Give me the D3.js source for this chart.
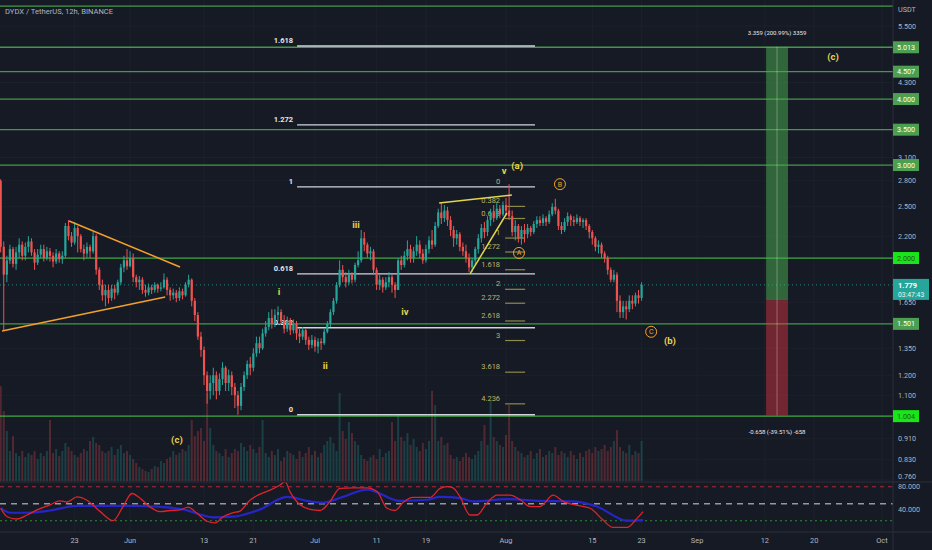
<!DOCTYPE html>
<html>
<head>
<meta charset="utf-8">
<script src="https://cdn.jsdelivr.net/npm/d3@7"></script>
<style>
	html, body { margin: 0; padding: 0; background: #161a25; }
	#chart { width: 932px; height: 550px; }
	text { font-family: Roboto, "Liberation Sans", sans-serif; }
</style>
</head>
<body>
<div id="chart"></div>
<script>

//12h candles, first one opens 2022-05-11 00:00 (chart timezone), last one 2022-08-23 00:00
var candleStart = Date.UTC(2022, 4, 11);
var candleStep = 12 * 3600 * 1000;
var firstOpen = 2.80;

var closes = [
	2.10,1.86,1.98,2.08,1.95,2.05,2.12,2.02,2.10,2.15,
	2.05,1.96,2.03,2.08,2.00,2.06,2.02,1.97,2.04,1.99,
	2.02,2.30,2.20,2.14,2.28,2.20,2.08,2.04,2.10,2.06,
	2.20,1.90,1.78,1.70,1.74,1.68,1.75,1.72,1.80,1.92,
	1.98,1.93,2.00,1.84,1.80,1.82,1.74,1.72,1.76,1.74,
	1.78,1.75,1.76,1.82,1.74,1.70,1.72,1.68,1.73,1.70,
	1.78,1.82,1.66,1.56,1.42,1.34,1.20,1.12,1.16,1.20,
	1.12,1.18,1.24,1.16,1.20,1.14,1.10,1.05,1.14,1.20,
	1.26,1.24,1.32,1.38,1.35,1.44,1.48,1.54,1.50,1.56,
	1.58,1.52,1.47,1.52,1.46,1.50,1.44,1.42,1.46,1.40,
	1.37,1.40,1.36,1.39,1.38,1.45,1.50,1.58,1.66,1.78,
	1.90,1.84,1.80,1.86,1.82,1.94,1.98,2.18,2.12,2.04,
	2.06,1.90,1.78,1.82,1.76,1.80,1.84,1.78,1.74,1.98,
	1.94,2.02,2.08,2.00,2.06,2.12,2.04,1.98,2.08,2.16,
	2.12,2.30,2.44,2.38,2.46,2.36,2.26,2.18,2.22,2.10,
	2.06,2.00,1.92,1.98,2.08,2.18,2.28,2.24,2.36,2.44,
	2.38,2.48,2.42,2.52,2.46,2.40,2.24,2.30,2.18,2.26,
	2.22,2.28,2.24,2.32,2.36,2.33,2.38,2.34,2.42,2.50,
	2.46,2.30,2.26,2.34,2.40,2.36,2.34,2.38,2.34,2.36,
	2.30,2.24,2.18,2.10,2.12,2.04,2.00,1.90,1.82,1.86,
	1.66,1.58,1.62,1.60,1.66,1.64,1.70,1.68,1.779
];

var highs = [
	2.82,2.15,2.02,2.12,2.10,2.10,2.18,2.15,2.14,2.20,
	2.18,2.08,2.08,2.12,2.12,2.10,2.09,2.05,2.08,2.06,
	2.06,2.33,2.36,2.24,2.34,2.30,2.22,2.12,2.14,2.12,
	2.24,2.22,1.92,1.82,1.78,1.78,1.78,1.78,1.82,1.95,
	2.02,2.08,2.06,2.04,1.86,1.85,1.84,1.78,1.79,1.78,
	1.80,1.79,1.80,1.87,1.84,1.76,1.75,1.74,1.76,1.75,
	1.80,1.86,1.83,1.68,1.58,1.45,1.36,1.22,1.20,1.24,
	1.22,1.21,1.27,1.25,1.23,1.22,1.16,1.12,1.16,1.22,
	1.28,1.30,1.35,1.42,1.42,1.47,1.52,1.58,1.60,1.60,
	1.62,1.60,1.56,1.55,1.54,1.53,1.52,1.47,1.48,1.47,
	1.42,1.43,1.42,1.41,1.41,1.47,1.52,1.60,1.68,1.80,
	1.98,1.94,1.88,1.90,1.88,1.96,2.06,2.26,2.24,2.14,
	2.10,2.08,1.92,1.86,1.84,1.84,1.88,1.86,1.80,2.00,
	2.02,2.06,2.16,2.12,2.10,2.20,2.16,2.08,2.12,2.20,
	2.26,2.34,2.48,2.55,2.52,2.50,2.40,2.30,2.26,2.24,
	2.14,2.12,2.04,2.00,2.10,2.22,2.32,2.34,2.40,2.48,
	2.52,2.54,2.52,2.56,2.60,2.76,2.46,2.36,2.32,2.30,
	2.32,2.32,2.30,2.35,2.40,2.40,2.42,2.40,2.46,2.54,
	2.59,2.48,2.34,2.38,2.44,2.42,2.40,2.42,2.40,2.38,
	2.38,2.32,2.26,2.20,2.16,2.14,2.06,2.02,1.92,1.90,
	1.88,1.70,1.66,1.66,1.70,1.70,1.72,1.74,1.80
];

var lows = [
	2.05,1.46,1.80,1.95,1.92,1.90,2.00,1.98,1.98,2.05,
	2.02,1.90,1.94,2.00,1.97,1.98,1.97,1.92,1.95,1.96,
	1.95,2.00,2.16,2.10,2.12,2.05,2.05,1.98,2.00,2.00,
	2.04,1.86,1.74,1.66,1.62,1.64,1.66,1.67,1.70,1.78,
	1.88,1.90,1.92,1.80,1.76,1.74,1.71,1.69,1.70,1.71,
	1.72,1.72,1.73,1.75,1.70,1.66,1.67,1.65,1.66,1.67,
	1.69,1.76,1.62,1.52,1.40,1.30,1.15,1.06,1.08,1.10,
	1.08,1.10,1.15,1.12,1.12,1.10,1.04,1.01,1.03,1.12,
	1.18,1.20,1.22,1.30,1.32,1.34,1.42,1.46,1.47,1.48,
	1.52,1.50,1.44,1.45,1.43,1.44,1.40,1.38,1.40,1.37,
	1.34,1.35,1.33,1.32,1.34,1.37,1.44,1.48,1.56,1.64,
	1.76,1.80,1.76,1.78,1.79,1.80,1.92,1.96,2.06,2.00,
	1.98,1.86,1.74,1.74,1.72,1.74,1.76,1.72,1.68,1.74,
	1.90,1.92,1.98,1.96,1.96,2.02,2.00,1.95,1.96,2.04,
	2.08,2.10,2.28,2.32,2.34,2.30,2.20,2.10,2.12,2.06,
	2.02,1.96,1.88,1.88,1.94,2.04,2.14,2.18,2.20,2.30,
	2.34,2.36,2.38,2.40,2.42,2.36,2.20,2.16,2.14,2.12,
	2.14,2.18,2.20,2.22,2.28,2.30,2.30,2.30,2.32,2.40,
	2.42,2.26,2.22,2.24,2.30,2.30,2.30,2.32,2.30,2.28,
	2.26,2.18,2.12,2.06,2.04,2.00,1.96,1.86,1.80,1.80,
	1.58,1.54,1.54,1.53,1.58,1.60,1.62,1.64,1.66
];

//volume, in millions
var volumes = [
	95,70,50,30,45,28,25,30,24,28,
	26,30,22,28,25,30,61,28,32,25,
	30,38,34,30,26,24,28,32,30,40,
	44,38,36,30,28,30,34,26,32,36,
	28,30,26,22,18,14,12,10,9,12,
	15,14,20,18,22,24,30,26,28,32,
	30,36,61,45,50,53,40,88,53,36,
	30,28,25,32,24,28,32,30,38,34,
	30,36,32,28,34,61,28,24,30,26,
	32,20,24,30,28,26,22,30,24,28,
	34,26,30,24,28,36,40,44,38,30,
	88,50,42,59,48,40,36,26,22,20,
	24,26,22,32,24,28,30,59,40,66,
	44,40,48,36,42,34,30,38,32,40,
	90,76,40,44,36,38,26,22,24,20,
	24,28,24,22,26,30,40,56,36,80,
	44,40,36,34,46,76,40,34,30,28,
	24,26,30,22,28,32,24,26,30,28,
	34,26,30,28,24,30,26,22,28,24,
	30,32,28,34,30,32,36,30,34,40,
	51,34,30,28,36,26,30,28,40
];

//oscillator (red) and its moving average (blue), read at candle positions
var rsiIdx = [0,2.1,5.3,8.6,11.8,16,19.3,21.5,24.8,28,32.3,36.5,39.7,42.6,45.2,48.5,51.7,55,58.2,60.8,63.7,67,69.6,72.2,75.4,77.7,80.9,84.2,87.4,90.7,92.3,93.9,97.2,100.4,103.7,106.9,110.1,114.4,118.9,122.2,125.4,128,130.6,133.8,139.3,142.6,144.9,146.8,149.1,152.3,154.6,157.8,161.1,165.3,168.6,171.8,175,179.3,182.5,188,191.3,195.5,198.7,203.3,206.5,208.5];
var rsiVal = [42,27,23,30,39,48,55,53,62,56,36,20,45,68,60,44,36,38,39,44,33,19,16,27,34,37,56,67,74,83,89,71,48,40,38,54,77,78,78,71,42,38,52,61,61,77,80,78,62,30,30,51,65,65,57,45,45,65,54,46,42,21,8,8,24,36];
var maIdx = [0,3.1,8.6,16,24.8,32.3,43,50.8,59.2,68.9,75.4,84.2,92.9,100.4,104.6,111.1,118.9,129.6,138.4,142.6,149.1,153.3,164.3,175,185.8,193.5,203.3,208.5];
var maVal = [42,34,34,38,46,46,46,45,40,26,27,40,62,54,52,62,75,55,57,62,60,54,58,55,54,45,20,21];
var oscLevels = [80, 50, 20];
var oscTicks = [80, 40];

//horizontal levels drawn on the chart, with price tags on the axis
var keyLevels = [6.0, 5.013, 4.507, 4.0, 3.5, 3.0, 2.0, 1.501, 1.004];
var brightLevels = [2.0, 1.004];
var priceTicks = [5.5, 4.3, 3.1, 2.8, 2.5, 2.2, 1.65, 1.35, 1.2, 1.1, 0.91, 0.83, 0.76];
var dateTicks = ["2022-05-23","2022-06-01","2022-06-13","2022-06-21","2022-07-01","2022-07-11","2022-07-19","2022-08-01","2022-08-15","2022-08-23","2022-09-01","2022-09-12","2022-09-20","2022-10-01"];

//fib retracement (price at level 0 and 1) and trend based extension
var fibLevels = [0, 0.382, 0.618, 1, 1.272, 1.618];
var fibPrices = [1.01, 2.728];
var fibSpan = [96.2, 173.4];
var extLevels = [0, 0.382, 0.618, 1, 1.272, 1.618, 2, 2.272, 2.618, 3, 3.618, 4.236];
var extPrices = [2.728, 2.182];
var extSpan = [163.7, 170.2];

//long position tool
var posSpan = [248.4, 255.5];
var posEntry = 1.665;
var posTarget = 5.024;
var posStop = 1.007;

var orangeLines = [
	{i1: 22.2, p1: 2.35, i2: 58.2, p2: 1.924},
	{i1: 0.45, p1: 1.455, i2: 53.4, p2: 1.688}
];
var wedgeLines = [
	{i1: 142.3, p1: 2.543, i2: 165.9, p2: 2.633},
	{i1: 152.3, p1: 1.866, i2: 164.3, p2: 2.434}
];
var waveLabels = [
	{text: "i", i: 90.3, p: 1.726},
	{text: "ii", i: 105.3, p: 1.25},
	{text: "iii", i: 115.3, p: 2.31},
	{text: "iv", i: 131.2, p: 1.58},
	{text: "v", i: 163.4, p: 2.93},
	{text: "(a)", i: 167.6, p: 2.99},
	{text: "(b)", i: 217.2, p: 1.394},
	{text: "(c)", i: 57.2, p: 0.905},
	{text: "(c)", i: 270.1, p: 4.81}
];
var circleLabels = [
	{text: "A", i: 168.2, p: 2.045},
	{text: "B", i: 181.5, p: 2.76},
	{text: "C", i: 211.1, p: 1.45}
];


function Chart(frame_id)
{
	var self = this;

	self.width = 932;
	self.height = 550;
	self.plotRight = 893;
	self.priceBottom = 482;
	self.oscBottom = 532;

	self.colors = {
		bg: "#161a25",
		grid: "#1d212c",
		text: "#b2b5be",
		border: "#2a2e39",
		up: "#26a69a",
		down: "#ef5350",
		level: "#4caf50",
		yellow: "#e4d64c",
		orange: "#f5a02a",
		ext: "#bdb56a"
	};

	self.frame = d3.select("#" + frame_id);
	self.svg = self.frame.append("svg")
		.attr("width", self.width)
		.attr("height", self.height);

	self.x = d3.scaleUtc()
		.domain([new Date(Date.UTC(2022, 4, 10, 21, 24)), new Date(Date.UTC(2022, 9, 2, 19, 0))])
		.range([0, self.plotRight]);

	self.y = d3.scaleLog()
		.domain([0.76, 5.5])
		.range([480, 26]);

	self.yVol = d3.scaleLinear()
		.domain([0, 100])
		.range([481, 381]);

	self.yOsc = d3.scaleLinear()
		.domain([0, 100])
		.range([self.oscBottom, 475.4]);

	//build the candle objects, each one opens at the previous close
	var n = Math.min(closes.length, highs.length, lows.length, volumes.length);
	self.candles = [];
	for (var i = 0; i < n; i++)
	{
		self.candles.push({
			i: i,
			open: i == 0 ? firstOpen : closes[i - 1],
			high: highs[i],
			low: lows[i],
			close: closes[i],
			volume: volumes[i]
		});
	}

	var defs = self.svg.append("defs");
	defs.append("clipPath").attr("id", "clip_price")
		.append("rect").attr("x", 0).attr("y", 0).attr("width", self.plotRight).attr("height", self.priceBottom);
	defs.append("clipPath").attr("id", "clip_osc")
		.append("rect").attr("x", 0).attr("y", self.priceBottom).attr("width", self.plotRight).attr("height", self.oscBottom - self.priceBottom);

	self.drawBackground();

	self.pricePane = self.svg.append("g").attr("clip-path", "url(#clip_price)");
	self.oscPane = self.svg.append("g").attr("clip-path", "url(#clip_osc)");

	self.drawVolume();
	self.drawLevels();
	self.drawFib();
	self.drawCandles();
	self.drawPosition();
	self.drawTrendLines();
	self.drawWaveLabels();
	self.drawOscillator();
	self.drawAxes();
}

//x position of a (possibly fractional) candle index
Chart.prototype.xi = function(i)
{
	var self = this;
	return self.x(new Date(candleStart + i * candleStep));
};

//price at a fib level, levels are spaced evenly on the log scale
Chart.prototype.fibPrice = function(prices, level)
{
	var a = Math.log(prices[0]);
	var b = Math.log(prices[1]);
	return Math.exp(a + level * (b - a));
};

Chart.prototype.drawBackground = function()
{
	var self = this;

	self.svg.append("rect")
		.attr("width", self.width)
		.attr("height", self.height)
		.attr("fill", self.colors.bg);

	var grid = self.svg.append("g").attr("class", "layer_grid");

	grid.selectAll(".vgrid")
		.data(dateTicks)
		.enter()
			.append("line")
				.attr("x1", function(d){return self.x(new Date(d));})
				.attr("x2", function(d){return self.x(new Date(d));})
				.attr("y1", 0)
				.attr("y2", self.oscBottom)
				.attr("stroke", self.colors.grid)
				.attr("stroke-width", 1);

	grid.selectAll(".hgrid")
		.data(priceTicks)
		.enter()
			.append("line")
				.attr("x1", 0)
				.attr("x2", self.plotRight)
				.attr("y1", function(d){return self.y(d);})
				.attr("y2", function(d){return self.y(d);})
				.attr("stroke", self.colors.grid)
				.attr("stroke-width", 1);
};

Chart.prototype.drawVolume = function()
{
	var self = this;

	self.pricePane.append("g")
		.attr("class", "layer_volume")
		.selectAll("rect")
		.data(self.candles)
		.enter()
			.append("rect")
				.attr("x", function(d){return self.xi(d.i) - 1;})
				.attr("width", 2)
				.attr("y", function(d){return self.yVol(d.volume);})
				.attr("height", function(d){return self.yVol(0) - self.yVol(d.volume);})
				.attr("fill", function(d){return d.close >= d.open ? self.colors.up : self.colors.down;})
				.attr("opacity", 0.27);
};

Chart.prototype.drawLevels = function()
{
	var self = this;

	//current price, dotted across the whole pane
	var last = self.candles[self.candles.length - 1].close;
	self.pricePane.append("line")
		.attr("x1", 0)
		.attr("x2", self.plotRight)
		.attr("y1", self.y(last))
		.attr("y2", self.y(last))
		.attr("stroke", self.colors.up)
		.attr("stroke-width", 1)
		.attr("stroke-dasharray", "1,3")
		.attr("opacity", 0.8);

	self.pricePane.append("g")
		.attr("class", "layer_levels")
		.selectAll("line")
		.data(keyLevels)
		.enter()
			.append("line")
				.attr("x1", 0)
				.attr("x2", self.plotRight)
				.attr("y1", function(d){return self.y(d);})
				.attr("y2", function(d){return self.y(d);})
				.attr("stroke", function(d){return brightLevels.indexOf(d) >= 0 ? "#46c34a" : self.colors.level;})
				.attr("stroke-width", 1.3)
				.attr("opacity", 0.85);
};

Chart.prototype.drawFib = function()
{
	var self = this;
	var g = self.pricePane.append("g").attr("class", "layer_fib");

	//retracement, white
	var x1 = self.xi(fibSpan[0]);
	var x2 = self.xi(fibSpan[1]);

	g.selectAll(".fib_line")
		.data(fibLevels)
		.enter()
			.append("line")
				.attr("x1", x1)
				.attr("x2", x2)
				.attr("y1", function(d){return self.y(self.fibPrice(fibPrices, d));})
				.attr("y2", function(d){return self.y(self.fibPrice(fibPrices, d));})
				.attr("stroke", "#d1d4dc")
				.attr("stroke-width", 1.4);

	g.selectAll(".fib_label")
		.data(fibLevels)
		.enter()
			.append("text")
				.attr("x", x1 - 4)
				.attr("y", function(d){return self.y(self.fibPrice(fibPrices, d)) - 3;})
				.attr("text-anchor", "end")
				.attr("font-size", "7.5px")
				.attr("font-weight", "bold")
				.attr("fill", "#e6e7ea")
				.text(function(d){return d;});

	//trend based extension, olive
	var e1 = self.xi(extSpan[0]);
	var e2 = self.xi(extSpan[1]);

	g.selectAll(".ext_line")
		.data(extLevels.slice(1))
		.enter()
			.append("line")
				.attr("x1", e1)
				.attr("x2", e2)
				.attr("y1", function(d){return self.y(self.fibPrice(extPrices, d));})
				.attr("y2", function(d){return self.y(self.fibPrice(extPrices, d));})
				.attr("stroke", "#8e8a48")
				.attr("stroke-width", 1.2);

	g.selectAll(".ext_label")
		.data(extLevels)
		.enter()
			.append("text")
				.attr("x", e1 - 5)
				.attr("y", function(d){return self.y(self.fibPrice(extPrices, d)) - 3;})
				.attr("text-anchor", "end")
				.attr("font-size", "7.5px")
				.attr("fill", self.colors.ext)
				.text(function(d){return d;});
};

Chart.prototype.drawCandles = function()
{
	var self = this;

	var candle = self.pricePane.append("g")
		.attr("class", "layer_candles")
		.selectAll(".candle")
		.data(self.candles)
		.enter()
			.append("g")
				.attr("class", "candle");

	candle.append("line")
		.attr("x1", function(d){return self.xi(d.i);})
		.attr("x2", function(d){return self.xi(d.i);})
		.attr("y1", function(d){return self.y(Math.max(d.high, d.open, d.close));})
		.attr("y2", function(d){return self.y(Math.min(d.low, d.open, d.close));})
		.attr("stroke", function(d){return d.close >= d.open ? self.colors.up : self.colors.down;})
		.attr("stroke-width", 1);

	candle.append("rect")
		.attr("x", function(d){return self.xi(d.i) - 1.1;})
		.attr("width", 2.2)
		.attr("y", function(d){return self.y(Math.max(d.open, d.close));})
		.attr("height", function(d){return Math.max(1, self.y(Math.min(d.open, d.close)) - self.y(Math.max(d.open, d.close)));})
		.attr("fill", function(d){return d.close >= d.open ? self.colors.up : self.colors.down;});
};

Chart.prototype.drawPosition = function()
{
	var self = this;
	var g = self.pricePane.append("g").attr("class", "layer_position");

	var x1 = self.xi(posSpan[0]);
	var x2 = self.xi(posSpan[1]);
	var yT = self.y(posTarget);
	var yE = self.y(posEntry);
	var yS = self.y(posStop);

	g.append("rect")
		.attr("x", x1).attr("width", x2 - x1)
		.attr("y", yT).attr("height", yE - yT)
		.attr("fill", "#4caf50").attr("opacity", 0.5);

	g.append("rect")
		.attr("x", x1).attr("width", x2 - x1)
		.attr("y", yE).attr("height", yS - yE)
		.attr("fill", "#f23645").attr("opacity", 0.42);

	g.append("line")
		.attr("x1", (x1 + x2) / 2).attr("x2", (x1 + x2) / 2)
		.attr("y1", yT).attr("y2", yS)
		.attr("stroke", "#ffffff").attr("stroke-opacity", 0.3).attr("stroke-width", 1);

	var gain = posTarget - posEntry;
	var loss = posStop - posEntry;

	g.append("text")
		.attr("x", (x1 + x2) / 2)
		.attr("y", yT - 12)
		.attr("text-anchor", "middle")
		.attr("font-size", "6px")
		.attr("fill", "#e6e7ea")
		.text(gain.toFixed(3) + " (200.99%) " + Math.round(gain * 1000));

	g.append("text")
		.attr("x", (x1 + x2) / 2)
		.attr("y", yS + 19)
		.attr("text-anchor", "middle")
		.attr("font-size", "6px")
		.attr("fill", "#e6e7ea")
		.text(loss.toFixed(3) + " (-39.51%) " + Math.round(loss * 1000));
};

Chart.prototype.drawTrendLines = function()
{
	var self = this;
	var g = self.pricePane.append("g").attr("class", "layer_trend");

	function addLines(data, color)
	{
		g.selectAll(null)
			.data(data)
			.enter()
				.append("line")
					.attr("x1", function(d){return self.xi(d.i1);})
					.attr("y1", function(d){return self.y(d.p1);})
					.attr("x2", function(d){return self.xi(d.i2);})
					.attr("y2", function(d){return self.y(d.p2);})
					.attr("stroke", color)
					.attr("stroke-width", 1.5);
	}

	addLines(orangeLines, self.colors.orange);
	addLines(wedgeLines, self.colors.yellow);
};

Chart.prototype.drawWaveLabels = function()
{
	var self = this;
	var g = self.pricePane.append("g").attr("class", "layer_waves");

	g.selectAll(".wave")
		.data(waveLabels)
		.enter()
			.append("text")
				.attr("x", function(d){return self.xi(d.i);})
				.attr("y", function(d){return self.y(d.p);})
				.attr("dy", "0.35em")
				.attr("text-anchor", "middle")
				.attr("font-size", "9.5px")
				.attr("font-weight", "bold")
				.attr("fill", self.colors.yellow)
				.text(function(d){return d.text;});

	var circ = g.selectAll(".circ")
		.data(circleLabels)
		.enter()
			.append("g")
				.attr("transform", function(d){return "translate(" + self.xi(d.i) + "," + self.y(d.p) + ")";});

	circ.append("circle")
		.attr("r", 5.5)
		.attr("fill", "none")
		.attr("stroke", self.colors.orange)
		.attr("stroke-width", 1);

	circ.append("text")
		.attr("dy", "0.35em")
		.attr("text-anchor", "middle")
		.attr("font-size", "7px")
		.attr("fill", self.colors.orange)
		.text(function(d){return d.text;});
};

Chart.prototype.drawOscillator = function()
{
	var self = this;
	var g = self.oscPane;

	var dash = {80: "4,4", 50: "6,5", 20: "2,3"};
	var col = {80: "#b22833", 50: "#9598a1", 20: "#2f8a3a"};

	g.selectAll(".osc_level")
		.data(oscLevels)
		.enter()
			.append("line")
				.attr("x1", 0)
				.attr("x2", self.plotRight)
				.attr("y1", function(d){return self.yOsc(d);})
				.attr("y2", function(d){return self.yOsc(d);})
				.attr("stroke", function(d){return col[d];})
				.attr("stroke-width", function(d){return d == 50 ? 1.6 : 1.1;})
				.attr("stroke-dasharray", function(d){return dash[d];});

	var line = d3.line()
		.x(function(d){return self.xi(d[0]);})
		.y(function(d){return self.yOsc(d[1]);})
		.curve(d3.curveMonotoneX);

	g.append("path")
		.datum(d3.zip(maIdx, maVal))
		.attr("d", line)
		.attr("fill", "none")
		.attr("stroke", "#2626c8")
		.attr("stroke-width", 2.2);

	g.append("path")
		.datum(d3.zip(rsiIdx, rsiVal))
		.attr("d", line)
		.attr("fill", "none")
		.attr("stroke", "#e0232a")
		.attr("stroke-width", 1.3);
};

Chart.prototype.drawAxes = function()
{
	var self = this;
	var c = self.colors;
	var g = self.svg.append("g").attr("class", "layer_axes");

	//pane borders
	g.append("line").attr("x1", 0).attr("x2", self.width).attr("y1", self.priceBottom).attr("y2", self.priceBottom).attr("stroke", c.border);
	g.append("line").attr("x1", 0).attr("x2", self.width).attr("y1", self.oscBottom).attr("y2", self.oscBottom).attr("stroke", c.border);
	g.append("line").attr("x1", self.plotRight).attr("x2", self.plotRight).attr("y1", 0).attr("y2", self.height).attr("stroke", c.border);

	//header
	g.append("text")
		.attr("x", 5).attr("y", 14)
		.attr("font-size", "7.6px")
		.attr("fill", c.text)
		.text("DYDX / TetherUS, 12h, BINANCE");

	g.append("text")
		.attr("x", 898).attr("y", 12)
		.attr("font-size", "7.2px")
		.attr("fill", c.text)
		.text("USDT");

	//price scale, a tick sitting on the pane edge is nudged up so it stays inside the pane
	var fmt = d3.format(".3f");
	g.selectAll(".ptick")
		.data(priceTicks)
		.enter()
			.append("text")
				.attr("x", 898)
				.attr("y", function(d){return Math.min(self.y(d), self.priceBottom - 6);})
				.attr("dy", "0.35em")
				.attr("font-size", "7.2px")
				.attr("fill", c.text)
				.text(function(d){return fmt(d);});

	var badge = g.selectAll(".badge")
		.data(keyLevels.filter(function(d){return self.y(d) > 10;}))
		.enter()
			.append("g")
				.attr("transform", function(d){return "translate(" + self.plotRight + "," + self.y(d) + ")";});

	badge.append("rect")
		.attr("x", 0).attr("y", -6).attr("width", 26).attr("height", 12)
		.attr("fill", function(d){return brightLevels.indexOf(d) >= 0 ? "#19e619" : "#4c9f50";});

	badge.append("text")
		.attr("x", 13).attr("dy", "0.35em")
		.attr("text-anchor", "middle")
		.attr("font-size", "7.2px")
		.attr("fill", function(d){return brightLevels.indexOf(d) >= 0 ? "#1f5b22" : "#ffffff";})
		.text(function(d){return fmt(d);});

	//last price tag with the bar countdown
	var last = self.candles[self.candles.length - 1].close;
	var tag = g.append("g").attr("transform", "translate(" + self.plotRight + "," + self.y(last) + ")");
	tag.append("rect").attr("x", 0).attr("y", -6).attr("width", 36).attr("height", 21).attr("fill", c.up);
	tag.append("text").attr("x", 5).attr("y", 3).attr("font-size", "7.4px").attr("font-weight", "bold").attr("fill", "#ffffff").text(fmt(last));
	tag.append("text").attr("x", 5).attr("y", 12).attr("font-size", "6.8px").attr("fill", "#e8f5f3").text("03:47:43");

	//oscillator scale
	g.selectAll(".otick")
		.data(oscTicks)
		.enter()
			.append("text")
				.attr("x", 898)
				.attr("y", function(d){return self.yOsc(d);})
				.attr("dy", "0.35em")
				.attr("font-size", "7.2px")
				.attr("fill", c.text)
				.text(function(d){return d3.format(".3f")(d);});

	//time scale
	var tfmt = function(d){return d.getUTCDate() == 1 ? d3.utcFormat("%b")(d) : d3.utcFormat("%-d")(d);};
	g.selectAll(".ttick")
		.data(dateTicks)
		.enter()
			.append("text")
				.attr("x", function(d){return self.x(new Date(d));})
				.attr("y", 543)
				.attr("text-anchor", "middle")
				.attr("font-size", "7.4px")
				.attr("fill", c.text)
				.text(function(d){return tfmt(new Date(d));});
};

chart_1 = new Chart("chart");

</script>
</body>
</html>
